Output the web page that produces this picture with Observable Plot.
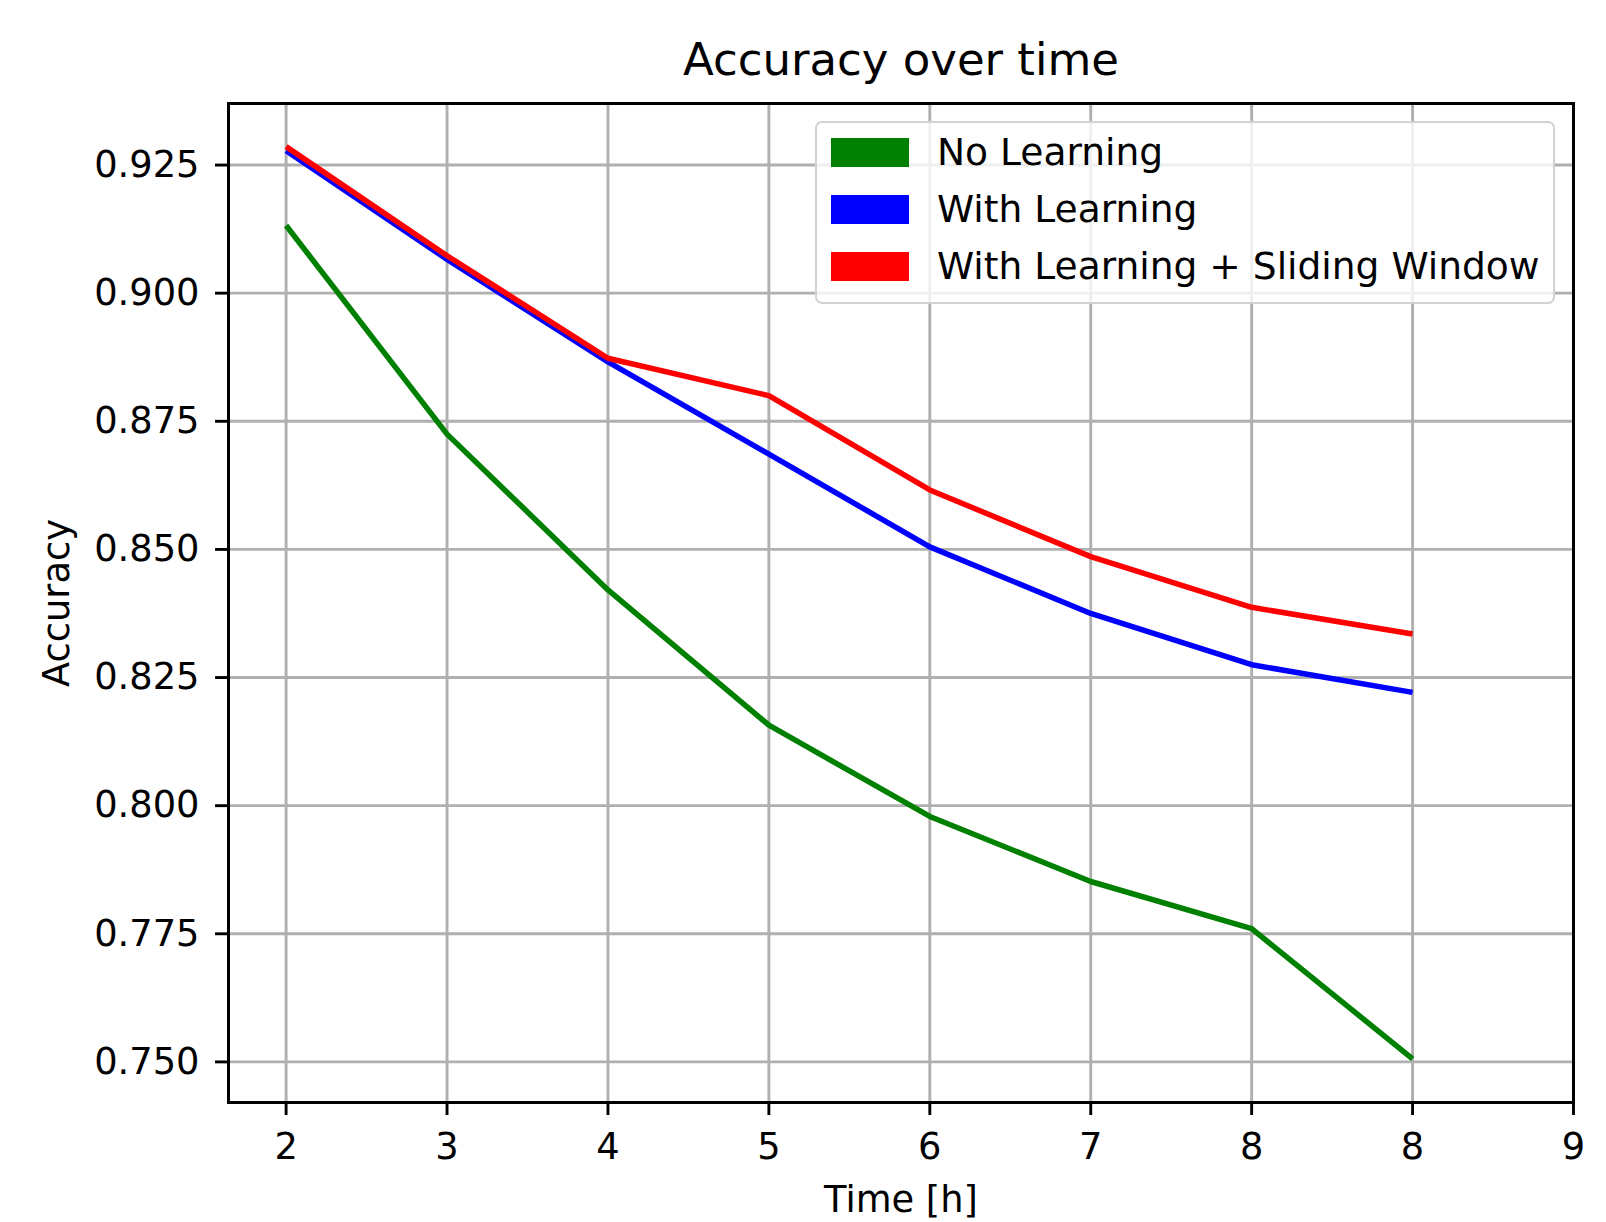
<!DOCTYPE html>
<html>
<head>
<meta charset="utf-8">
<script src="https://cdn.jsdelivr.net/npm/d3@7"></script>
<script src="https://cdn.jsdelivr.net/npm/@observablehq/plot@0.6"></script>
<style>
  html, body { margin: 0; padding: 0; background: #fff; }
  #wrap { position: relative; width: 1606px; height: 1222px; font-family: "DejaVu Sans", sans-serif; }
  #legend {
    position: absolute; left: 815px; top: 121px; width: 740px; height: 183px;
    background: rgba(255,255,255,0.8); border: 2px solid #d2d2d2; border-radius: 7px;
    box-sizing: border-box;
  }
  .entry { position: absolute; left: 14px; height: 40px; display: flex; align-items: center; }
  .swatch { width: 78px; height: 29px; margin-right: 28px; }
  .lbl { font-size: 37.6px; color: #000; white-space: nowrap; line-height: 40px; }
</style>
</head>
<body>
<div id="wrap"></div>
<script>
// ---- data ----
const timeIndex = [0, 1, 2, 3, 4, 5, 6, 7];
const xTickValues = [0, 1, 2, 3, 4, 5, 6, 7, 8];
const xTickLabels = ["2", "3", "4", "5", "6", "7", "8", "8", "9"];
const yTickValues = [0.750, 0.775, 0.800, 0.825, 0.850, 0.875, 0.900, 0.925];

const seriesNames = ["No Learning", "With Learning", "With Learning + Sliding Window"];
const seriesColors = ["#008000", "#0000ff", "#ff0000"];
const noLearning    = [0.9132, 0.8725, 0.8421, 0.8157, 0.7979, 0.7852, 0.7760, 0.7506];
const withLearning  = [0.9278, 0.9066, 0.8866, 0.8686, 0.8505, 0.8375, 0.8275, 0.8221];
const slidingWindow = [0.9286, 0.9073, 0.8873, 0.8800, 0.8616, 0.8486, 0.8387, 0.8335];

const title = "Accuracy over time";
const xLabel = "Time [h]";
const yLabel = "Accuracy";

// ---- build table ----
const seriesValues = [noLearning, withLearning, slidingWindow];
const rows = [];
seriesNames.forEach((name, s) => {
  timeIndex.forEach((t, i) => rows.push({series: name, x: t, y: seriesValues[s][i]}));
});

const lineMarks = seriesNames.map((name, s) =>
  Plot.line(rows.filter(r => r.series === name), {
    x: "x", y: "y", stroke: seriesColors[s], strokeWidth: 5.5,
    strokeLinejoin: "round", strokeLinecap: "butt"
  })
);

const chart = Plot.plot({
  width: 1606,
  height: 1222,
  marginLeft: 228,
  marginRight: 33,
  marginTop: 103,
  marginBottom: 120,
  style: {fontFamily: "DejaVu Sans, sans-serif", color: "#000", background: "#fff", overflow: "visible"},
  x: {domain: [-0.358, 8]},
  y: {domain: [0.74208, 0.93701]},
  marks: [
    Plot.gridX(xTickValues, {stroke: "#b0b0b0", strokeOpacity: 1, strokeWidth: 2.9}),
    Plot.gridY(yTickValues, {stroke: "#b0b0b0", strokeOpacity: 1, strokeWidth: 2.9}),
    ...lineMarks,
    Plot.axisX({ticks: xTickValues, tickFormat: d => xTickLabels[d], tickSize: 13, tickPadding: 17,
      fontSize: 36.8, strokeWidth: 2.9, label: null}),
    Plot.axisY({ticks: yTickValues, tickFormat: d3.format(".3f"), tickSize: 13, tickPadding: 16,
      fontSize: 36.8, strokeWidth: 2.9, label: null}),
    Plot.frame({stroke: "#000", strokeWidth: 3}),
    Plot.text([title], {frameAnchor: "top", dy: -29, lineAnchor: "bottom", fontSize: 45, fill: "#000"}),
    Plot.text([xLabel], {frameAnchor: "bottom", dy: 109, lineAnchor: "bottom", fontSize: 36.8, fill: "#000"}),
    Plot.text([yLabel], {frameAnchor: "left", dx: -160, rotate: -90, lineAnchor: "bottom", textAnchor: "middle", fontSize: 36.8, fill: "#000"})
  ]
});

const wrap = document.getElementById("wrap");
wrap.appendChild(chart);

// ---- legend ----
const legend = document.createElement("div");
legend.id = "legend";
const rowTops = [9, 66, 123];
seriesNames.forEach((name, s) => {
  const e = document.createElement("div");
  e.className = "entry";
  e.style.top = rowTops[s] + "px";
  const sw = document.createElement("div");
  sw.className = "swatch";
  sw.style.background = seriesColors[s];
  const lb = document.createElement("span");
  lb.className = "lbl";
  lb.textContent = name;
  e.appendChild(sw); e.appendChild(lb);
  legend.appendChild(e);
});
wrap.appendChild(legend);
</script>
</body>
</html>
